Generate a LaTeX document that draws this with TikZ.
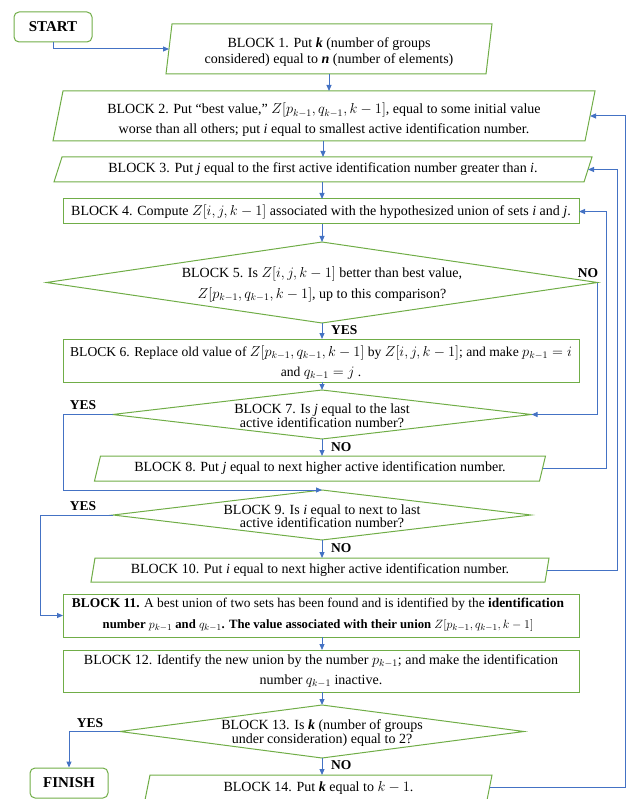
\documentclass[tikz,border=0pt]{standalone}
\usepackage{fontspec}
\setmainfont{Liberation Serif}
\usetikzlibrary{shapes.geometric,arrows.meta,calc}
\definecolor{gbord}{RGB}{112,173,71}
\definecolor{barrow}{RGB}{68,114,196}
\newcommand\drawpara[2]{\draw[gline] ([xshift=#2]#1.north west) -- ([xshift=#2]#1.north east) -- ([xshift=-#2]#1.south east) -- ([xshift=-#2]#1.south west) -- cycle;}
\newcommand\Zb[1]{Z\big[#1\big]}
\begin{document}
\begin{tikzpicture}[x=1pt,y=-1pt,
  gline/.style={draw=gbord,line width=1pt},
  txt/.style={align=center,inner sep=0pt,outer sep=0pt,font=\fontsize{14}{20}\selectfont},
  pbox/.style n args={2}{txt,minimum width=#1,minimum height=#2},
  rbox/.style n args={2}{txt,gline,minimum width=#1,minimum height=#2},
  dia/.style n args={2}{diamond,gline,minimum width=#1,minimum height=#2,inner sep=0pt,outer sep=0pt},
  term/.style={rectangle,rounded corners=5pt,gline,minimum width=78,minimum height=30,inner sep=0pt,font=\bfseries\fontsize{15}{18}\selectfont},
  lab/.style={inner sep=0pt,font=\bfseries\fontsize{13.5}{16}\selectfont},
  arr/.style={draw=barrow,line width=1pt,-{Triangle[length=6pt,width=5pt]}}
]
\useasboundingbox (0,0) rectangle (627,799);
\clip (0,0) rectangle (627,799);

% rails
\coordinate (railA) at (606,0);
\coordinate (railB) at (617,0);
\coordinate (railC) at (625.5,0);
\coordinate (railL) at (63,0);
\coordinate (railLL) at (40,0);

\node[term] (start) at (53,27) {START};
\node[term] (finish) at (69,783) {FINISH};

\node[pbox={320}{50}] (b1) at (329,49) {};
\drawpara{b1}{3}
\node[txt,font=\fontsize{14}{16}\selectfont] (t1) at (329,52.5)
 {BLOCK 1. Put \textbf{\textit{k}} (number of groups\\considered) equal to \textbf{\textit{n}} (number of elements)};

\node[pbox={532}{50}] (b2) at (324,116) {};
\drawpara{b2}{5}
\node[txt] (t2) at (324,120)
 {BLOCK 2. Put “best value,” $\Zb{p_{k-1},q_{k-1},k-1}$, equal to some initial value\\worse than all others; put \textit{i} equal to smallest active identification number.};

\node[pbox={530}{25}] (b3) at (323,169.5)
 {BLOCK 3. Put \textit{j} equal to the first active identification number greater than \textit{i}.};
\drawpara{b3}{4}

\node[rbox={516}{25}] (b4) at (321,211.5)
 {BLOCK 4. Compute $\Zb{i,j,k-1}$ associated with the hypothesized union of sets \textit{i} and \textit{j}.};

\node[dia={551}{81}] (b5) at (322,282.5) {};
\node[txt,font=\fontsize{14}{21}\selectfont] (t5) at (322,284.5)
 {BLOCK 5. Is $\Zb{i,j,k-1}$ better than best value,\\$\Zb{p_{k-1},q_{k-1},k-1}$, up to this comparison?};

\node[rbox={516}{43}] (b6) at (321,360.5) {};
\node[txt,font=\fontsize{13.6}{20}\selectfont] (t6) at (321,362.5)
 {BLOCK 6. Replace old value of $\Zb{p_{k-1},q_{k-1},k-1}$ by $\Zb{i,j,k-1}$; and make $p_{k-1}=i$\\and $q_{k-1}=j$ .};

\node[dia={419}{49}] (b7) at (322,414.5) {};
\node[txt,font=\fontsize{14}{13.5}\selectfont] (t7) at (322,415.5)
 {BLOCK 7. Is \textit{j} equal to the last\\active identification number?};

\node[pbox={445}{25}] (b8) at (320,468.5)
 {BLOCK 8. Put \textit{j} equal to next higher active identification number.};
\drawpara{b8}{3}

\node[dia={418}{50}] (b9) at (322,515) {};
\node[txt,font=\fontsize{14}{13.5}\selectfont] (t9) at (322,516)
 {BLOCK 9. Is \textit{i} equal to next to last\\active identification number?};

\node[pbox={454}{24}] (b10) at (320,570)
 {BLOCK 10. Put \textit{i} equal to next higher active identification number.};
\drawpara{b10}{2}

\node[rbox={516}{43}] (b11) at (321,615.5) {};
\node[txt,font=\fontsize{13.4}{21}\selectfont] (t11) at (318,615)
 {\textbf{BLOCK 11.} A best union of two sets has been found and is identified by the \textbf{identification}\\{\fontsize{12.7}{21}\selectfont\textbf{number $p_{k-1}$ and $q_{k-1}$. The value associated with their union $\Zb{p_{k-1},q_{k-1},k-1}$}}};

\node[rbox={516}{42}] (b12) at (321,671)
 {BLOCK 12. Identify the new union by the number $p_{k-1}$; and make the identification\\number $q_{k-1}$ inactive.};

\node[dia={404}{53}] (b13) at (322,731.5) {};
\node[txt,font=\fontsize{14}{13.5}\selectfont] (t13) at (322,733)
 {BLOCK 13. Is \textbf{\textit{k}} (number of groups\\under consideration) equal to 2?};

\node[pbox={342}{25}] (b14) at (318.5,787.5)
 {BLOCK 14. Put \textbf{\textit{k}} equal to $k-1$.};
\drawpara{b14}{2.5}

% main flow
\draw[arr] (start.south) |- (b1.west);
\draw[arr] (b1.south) -- (b1.south |- b2.north);
\draw[arr] (b3.north |- b2.south) -- (b3.north);
\draw[arr] (b5.north |- b3.south) -- (b5.north |- b4.north);
\draw[arr] (b5.north |- b4.south) -- (b5.north);
\draw[arr] (b5.south) -- (b5.south |- b6.north);
\draw[arr] (b7.north |- b6.south) -- (b7.north);
\draw[arr] (b7.south) -- (b7.south |- b8.north);
\draw[arr] (b9.south) -- (b9.south |- b10.north);
\draw[arr] (b13.north |- b11.south) -- (b13.north |- b12.north);
\draw[arr] (b13.north |- b12.south) -- (b13.north);
\draw[arr] (b13.south) -- (b13.south |- b14.north);

% loops
\draw[arr] (b5.east) |- (b7.east);
\draw[arr] (b7.west) -- (b7.west -| railL) |- (b9.north);
\draw[arr] (b8.east) -- (b8.east -| railA) |- (b4.east);
\draw[arr] (b9.west) -- (b9.west -| railLL) |- (b11.west);
\draw[arr] (b10.east) -- (b10.east -| railB) |- (b3.east);
\draw[arr] (b14.east) -- (b14.east -| railC) |- (b2.east);
\draw[arr] (b13.west) -| (finish.north);

% labels
\node[lab] (l5n) at (588,273) {NO};
\node[lab,anchor=west] (l5y) at (331,330) {YES};
\node[lab] (l7y) at (83,405) {YES};
\node[lab,anchor=west] (l7n) at (331,447) {NO};
\node[lab] (l9y) at (83,506) {YES};
\node[lab,anchor=west] (l9n) at (331,548) {NO};
\node[lab] (l13y) at (90,723) {YES};
\node[lab,anchor=west] (l13n) at (331,765) {NO};
\end{tikzpicture}
\end{document}
